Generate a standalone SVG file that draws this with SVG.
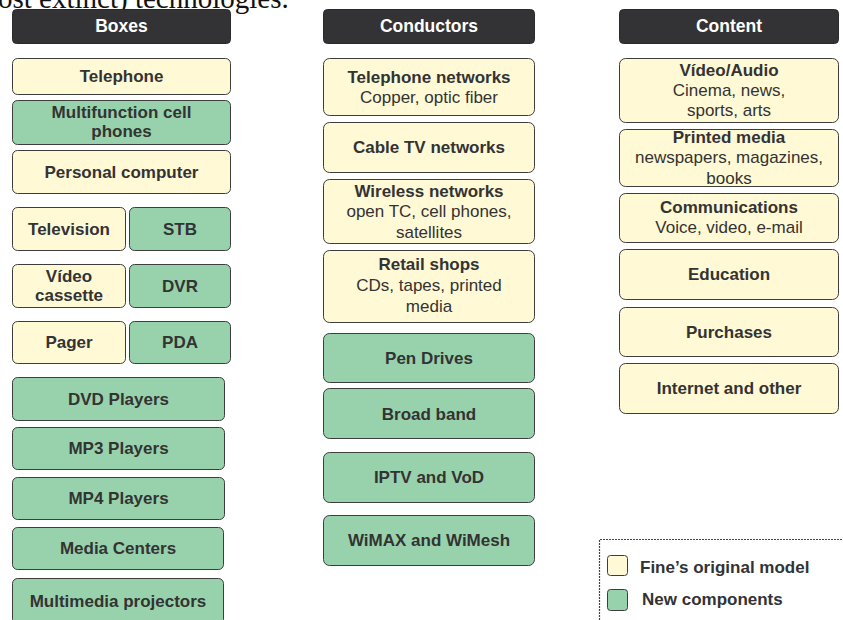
<svg xmlns="http://www.w3.org/2000/svg" width="843" height="620" viewBox="0 0 843 620">
<style>
text{font-family:"Liberation Sans",Arial,Helvetica,sans-serif;font-size:17px;fill:#333;text-anchor:middle}
.b{font-weight:bold}
.hd{fill:#333336;stroke:#2a2a2c;stroke-width:1}
.y{fill:#FFF9D5;stroke:#3d3d3d;stroke-width:1}
.g{fill:#98D2AC;stroke:#3d3d3d;stroke-width:1}
.ht{fill:#fff;font-weight:bold;font-size:17.5px}
.lg{text-anchor:start;font-weight:bold;font-size:17px}
.top{font-family:"Liberation Serif","Times New Roman",serif;font-size:29px;fill:#111;text-anchor:start}
</style>
<rect width="843" height="620" fill="#fff"/>
<text class="top" x="-2" y="8">ost extinct) technologies.</text>

<!-- Headers -->
<g id="h-boxes"><rect class="hd" x="12.5" y="9.5" width="218" height="34" rx="4"/><text class="ht" x="121.5" y="32">Boxes</text></g>
<g id="h-conductors"><rect class="hd" x="323.5" y="9.5" width="211" height="34" rx="4"/><text class="ht" x="429" y="32">Conductors</text></g>
<g id="h-content"><rect class="hd" x="619.5" y="9.5" width="219" height="34" rx="4"/><text class="ht" x="729" y="32">Content</text></g>

<!-- Boxes column -->
<g id="telephone"><rect class="y" x="12.5" y="58.5" width="218" height="36" rx="5"/><text class="b" x="121.5" y="82">Telephone</text></g>
<g id="multifunction"><rect class="g" x="12.5" y="100.5" width="218" height="44" rx="5"/><text class="b" x="121.5" y="118">Multifunction cell</text><text class="b" x="121.5" y="137">phones</text></g>
<g id="pc"><rect class="y" x="12.5" y="150.5" width="218" height="43" rx="5"/><text class="b" x="121.5" y="178">Personal computer</text></g>
<g id="television"><rect class="y" x="12.5" y="207.5" width="113" height="43" rx="5"/><text class="b" x="69" y="235">Television</text></g>
<g id="stb"><rect class="g" x="129.5" y="207.5" width="101" height="43" rx="5"/><text class="b" x="180" y="235">STB</text></g>
<g id="videocassette"><rect class="y" x="12.5" y="264.5" width="113" height="43" rx="5"/><text class="b" x="69" y="282">Vídeo</text><text class="b" x="69" y="301">cassette</text></g>
<g id="dvr"><rect class="g" x="129.5" y="264.5" width="101" height="43" rx="5"/><text class="b" x="180" y="292">DVR</text></g>
<g id="pager"><rect class="y" x="12.5" y="321.5" width="113" height="42" rx="5"/><text class="b" x="69" y="348">Pager</text></g>
<g id="pda"><rect class="g" x="129.5" y="321.5" width="101" height="42" rx="5"/><text class="b" x="180" y="348">PDA</text></g>
<g id="dvd"><rect class="g" x="12.5" y="377.5" width="212" height="43" rx="5"/><text class="b" x="118.5" y="405">DVD Players</text></g>
<g id="mp3"><rect class="g" x="12.5" y="427.5" width="212" height="42" rx="5"/><text class="b" x="118.5" y="454">MP3 Players</text></g>
<g id="mp4"><rect class="g" x="12.5" y="477.5" width="212" height="42" rx="5"/><text class="b" x="118.5" y="504">MP4 Players</text></g>
<g id="mediacenters"><rect class="g" x="12.5" y="527.5" width="211" height="42" rx="5"/><text class="b" x="118" y="554">Media Centers</text></g>
<g id="projectors"><rect class="g" x="12.5" y="578.5" width="211" height="46" rx="5"/><text class="b" x="118" y="607">Multimedia projectors</text></g>

<!-- Conductors column -->
<g id="telnet"><rect class="y" x="323.5" y="58.5" width="211" height="57" rx="6"/><text class="b" x="429" y="83">Telephone networks</text><text x="429" y="103">Copper, optic fiber</text></g>
<g id="cabletv"><rect class="y" x="323.5" y="122.5" width="211" height="50" rx="6"/><text class="b" x="429" y="153">Cable TV networks</text></g>
<g id="wireless"><rect class="y" x="323.5" y="179.5" width="211" height="64" rx="6"/><text class="b" x="429" y="197">Wireless networks</text><text x="429" y="217">open TC, cell phones,</text><text x="429" y="238">satellites</text></g>
<g id="retail"><rect class="y" x="323.5" y="250.5" width="211" height="72" rx="6"/><text class="b" x="429" y="270">Retail shops</text><text x="429" y="291">CDs, tapes, printed</text><text x="429" y="312">media</text></g>
<g id="pendrives"><rect class="g" x="323.5" y="333.5" width="211" height="49" rx="6"/><text class="b" x="429" y="364">Pen Drives</text></g>
<g id="broadband"><rect class="g" x="323.5" y="388.5" width="211" height="50" rx="6"/><text class="b" x="429" y="420">Broad band</text></g>
<g id="iptv"><rect class="g" x="323.5" y="452.5" width="211" height="50" rx="6"/><text class="b" x="429" y="483">IPTV and VoD</text></g>
<g id="wimax"><rect class="g" x="323.5" y="515.5" width="211" height="50" rx="6"/><text class="b" x="429" y="546">WiMAX and WiMesh</text></g>

<!-- Content column -->
<g id="videoaudio"><rect class="y" x="619.5" y="58.5" width="219" height="64" rx="6"/><text class="b" x="729" y="76">Vídeo/Audio</text><text x="729" y="96">Cinema, news,</text><text x="729" y="116">sports, arts</text></g>
<g id="printed"><rect class="y" x="619.5" y="129.5" width="219" height="57" rx="6"/><text class="b" x="729" y="143">Printed media</text><text x="729" y="163">newspapers, magazines,</text><text x="729" y="184">books</text></g>
<g id="communications"><rect class="y" x="619.5" y="193.5" width="219" height="49" rx="6"/><text class="b" x="729" y="213">Communications</text><text x="729" y="233">Voice, video, e-mail</text></g>
<g id="education"><rect class="y" x="619.5" y="249.5" width="219" height="50" rx="6"/><text class="b" x="729" y="280">Education</text></g>
<g id="purchases"><rect class="y" x="619.5" y="307.5" width="219" height="49" rx="6"/><text class="b" x="729" y="338">Purchases</text></g>
<g id="internet"><rect class="y" x="619.5" y="363.5" width="219" height="50" rx="6"/><text class="b" x="729" y="394">Internet and other</text></g>

<!-- Legend -->
<g id="legend">
<path d="M599.5 620 V539.5 H843" fill="none" stroke="#444" stroke-width="1.2" stroke-dasharray="2 1"/>
<rect class="y" x="607.5" y="555.5" width="20" height="20" rx="3"/>
<text class="lg" x="640" y="573">Fine’s original model</text>
<rect class="g" x="607.5" y="589.5" width="20" height="21" rx="3"/>
<text class="lg" x="642" y="605">New components</text>
</g>
</svg>
